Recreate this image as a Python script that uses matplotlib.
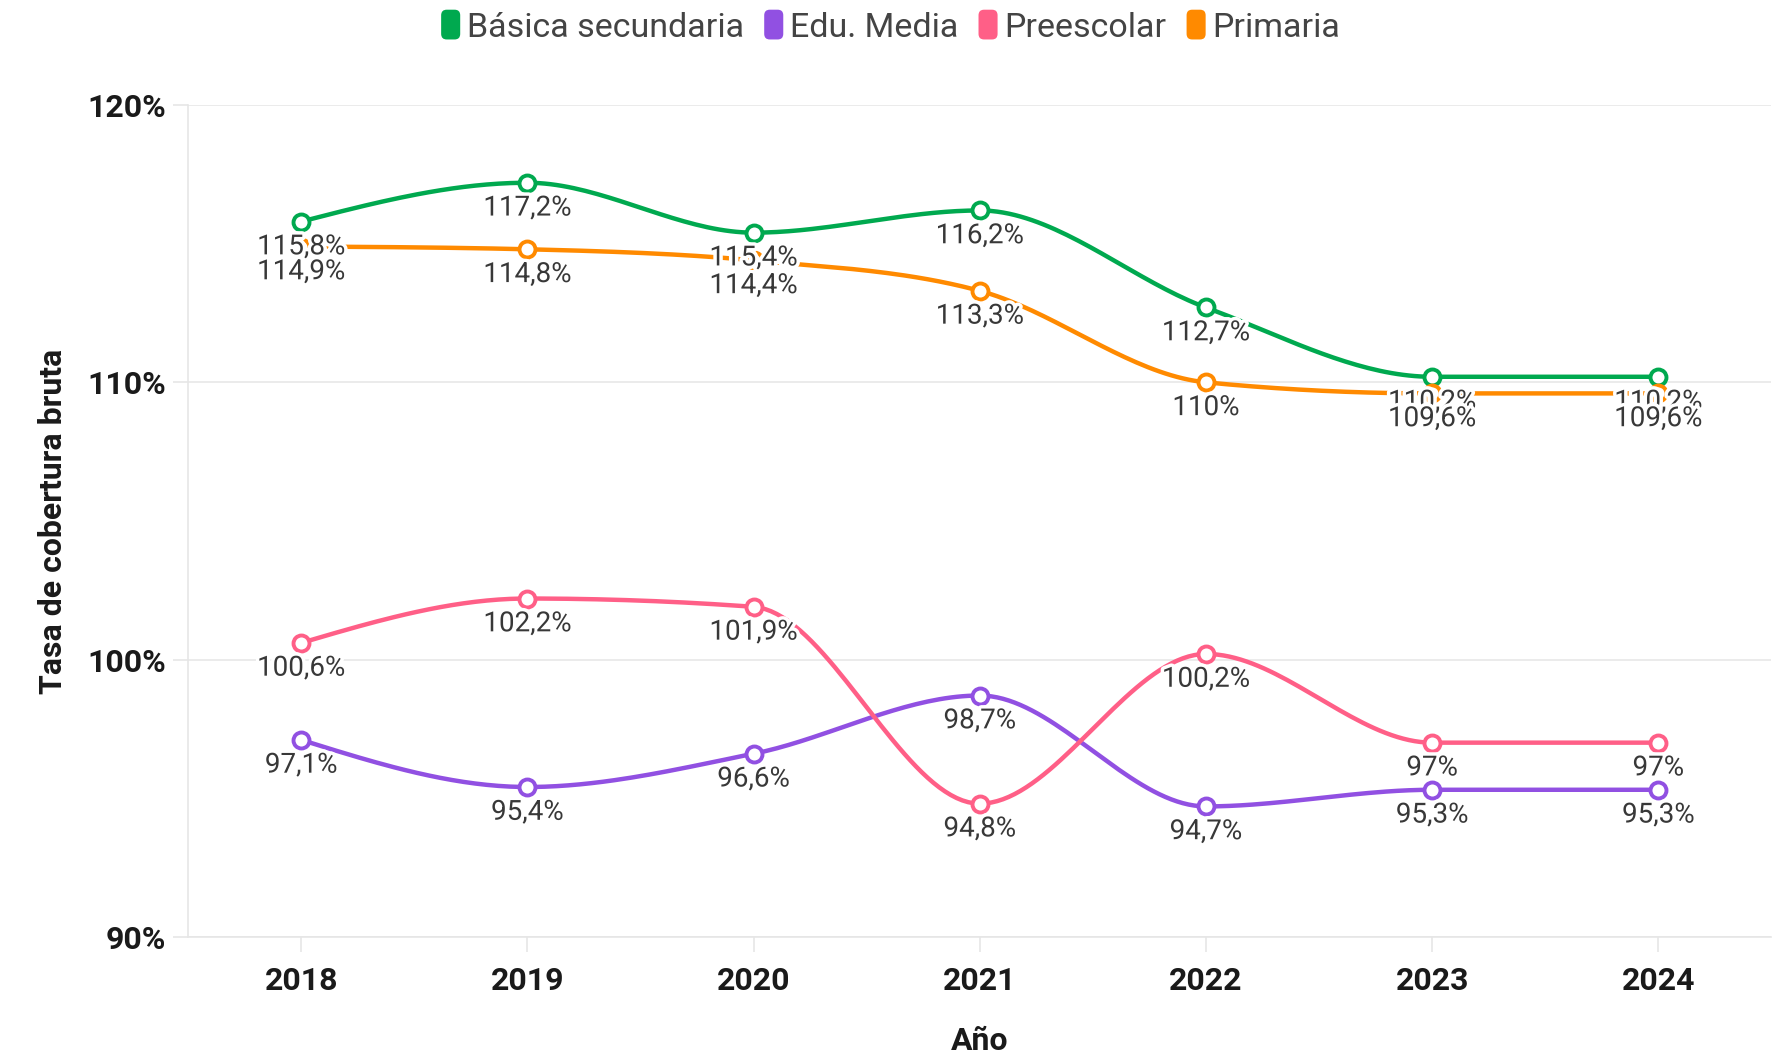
import numpy as np
import matplotlib
matplotlib.use("Agg")
import matplotlib.pyplot as plt
import matplotlib.patheffects as pe
from matplotlib.patches import Patch, FancyBboxPatch
from matplotlib.legend_handler import HandlerPatch

plt.rcParams['font.family'] = ['Roboto', 'DejaVu Sans']

# data
years = [2018, 2019, 2020, 2021, 2022, 2023, 2024]
series_names = ['Básica secundaria', 'Edu. Media', 'Preescolar', 'Primaria']
basica_sec = [115.8, 117.2, 115.4, 116.2, 112.7, 110.2, 110.2]
edu_media = [97.1, 95.4, 96.6, 98.7, 94.7, 95.3, 95.3]
preescolar = [100.6, 102.2, 101.9, 94.8, 100.2, 97.0, 97.0]
primaria = [114.9, 114.8, 114.4, 113.3, 110.0, 109.6, 109.6]
colors = ['#00a94f', '#9150e2', '#ff5f87', '#ff8a00']
y_ticks = [90, 100, 110, 120]


def monotone_x(x, y, n=40):
    # d3 curveMonotoneX style tangents + hermite segments
    x = np.asarray(x, float)
    y = np.asarray(y, float)
    h = np.diff(x)
    s = np.diff(y) / h
    m = np.zeros(len(x))
    for i in range(1, len(x) - 1):
        p = (s[i - 1] * h[i] + s[i] * h[i - 1]) / (h[i - 1] + h[i])
        m[i] = (np.sign(s[i - 1]) + np.sign(s[i])) * min(abs(s[i - 1]), abs(s[i]), 0.5 * abs(p))
    m[0] = (3 * s[0] - m[1]) / 2
    m[-1] = (3 * s[-1] - m[-2]) / 2
    xs, ys = [], []
    for i in range(len(x) - 1):
        t = np.linspace(0, 1, n)
        h00 = 2 * t**3 - 3 * t**2 + 1
        h10 = t**3 - 2 * t**2 + t
        h01 = -2 * t**3 + 3 * t**2
        h11 = t**3 - t**2
        xs.append(x[i] + t * h[i])
        ys.append(h00 * y[i] + h10 * h[i] * m[i] + h01 * y[i + 1] + h11 * h[i] * m[i + 1])
    return np.concatenate(xs), np.concatenate(ys)


def fmt(v):
    txt = ('%.1f' % v).rstrip('0').rstrip('.')
    return txt.replace('.', ',') + '%'


fig = plt.figure(figsize=(17.75, 10.62), dpi=100)
ax = fig.add_axes([0.106, 0.118, 0.892, 0.783])

all_series = [basica_sec, edu_media, preescolar, primaria]
for vals, c in zip(all_series, colors):
    xs, ys = monotone_x(years, vals)
    ax.plot(xs, ys, color=c, lw=3.2, zorder=2, solid_capstyle='round')
    ax.plot(years, vals, 'o', ms=11.5, mfc='white', mec=c, mew=2.8, zorder=3)

halo = [pe.withStroke(linewidth=5, foreground='white')]
for vals in all_series:
    for x, v in zip(years, vals):
        ax.annotate(fmt(v), (x, v), xytext=(0, -8.5), textcoords='offset points',
                    ha='center', va='top', fontsize=20, color='#383838',
                    path_effects=halo, zorder=4)

ax.set_xlim(2017.5, 2024.5)
ax.set_ylim(90, 120)
ax.set_xticks(years)
ax.set_yticks(y_ticks)
ax.set_yticklabels(['%d%%' % t for t in y_ticks])
ax.tick_params(axis='x', length=11, width=1.2, color='#e6e6e6', pad=10, labelsize=23)
ax.tick_params(axis='y', length=11, width=1.2, color='#e6e6e6', pad=5, labelsize=23)
for lab in ax.get_xticklabels() + ax.get_yticklabels():
    lab.set_fontweight('bold')
    lab.set_color('#1a1a1a')
ax.grid(axis='y', color='#e8e8e8', lw=1.2)
ax.set_axisbelow(True)
for side in ['top', 'right']:
    ax.spines[side].set_visible(False)
ax.spines['left'].set_color('#e6e6e6')
ax.spines['bottom'].set_color('#e6e6e6')
ax.spines['left'].set_linewidth(1.2)
ax.spines['bottom'].set_linewidth(1.2)

ax.set_xlabel('Año', fontsize=23, fontweight='bold', labelpad=22, color='#1a1a1a')
ax.set_ylabel('Tasa de cobertura bruta', fontsize=23, fontweight='bold', labelpad=14, color='#1a1a1a')


def rounded_box(legend, orig_handle, xdescent, ydescent, width, height, fontsize):
    w = height * 0.8
    return FancyBboxPatch((width - w - xdescent, -ydescent - height * 0.12), w, height * 1.25,
                          boxstyle='round,pad=0,rounding_size=4')


handles = [Patch(facecolor=c, edgecolor='none') for c in colors]
fig.legend(handles, series_names, loc='center', bbox_to_anchor=(0.5, 0.974), ncol=4,
           frameon=False, fontsize=24.5, handlelength=0.75, handletextpad=0.2,
           columnspacing=0.4, labelcolor='#444444',
           handler_map={Patch: HandlerPatch(patch_func=rounded_box)})

fig.savefig('out.png', dpi=100, facecolor='white')
